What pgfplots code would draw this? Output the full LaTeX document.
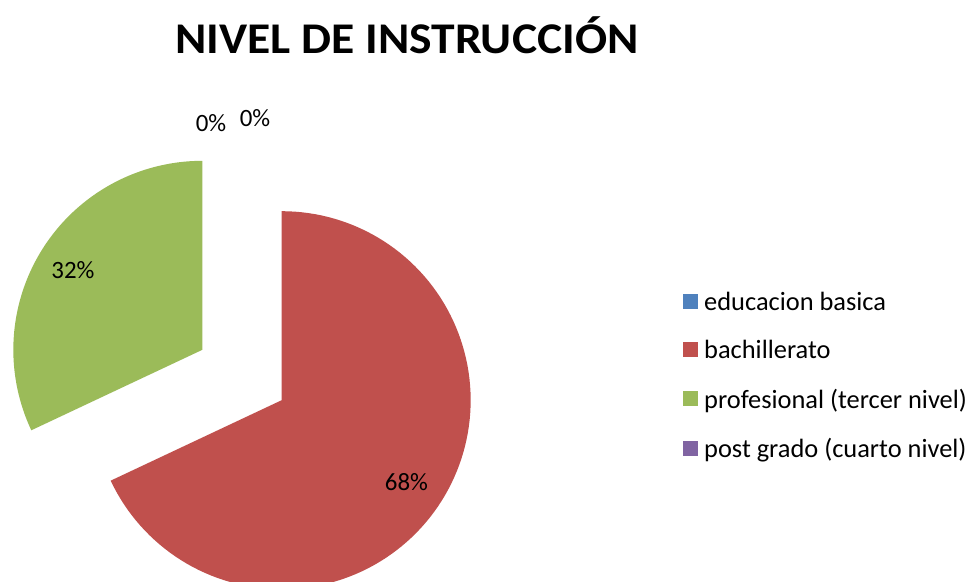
\documentclass[border=0pt]{standalone}
\usepackage{pgfplots}
\pgfplotsset{compat=1.18}
\usepackage{fontspec}
\setmainfont{Carlito}
\definecolor{cblue}{HTML}{4F81BD}
\definecolor{cred}{HTML}{C0504D}
\definecolor{cgreen}{HTML}{9BBB59}
\definecolor{cpurple}{HTML}{8064A2}
% pie geometry (pixels of the reference): centre, radius, explosion
\def\pcx{242}\def\pcy{375}\def\pr{189}\def\pex{47}
% \slice{colour}{cumulative % before}{value %}
\newcommand{\slice}[3]{%
  \pgfmathsetmacro\aS{90-3.6*#2}%
  \pgfmathsetmacro\aE{90-3.6*(#2+#3)}%
  \pgfmathsetmacro\aM{(\aS+\aE)/2}%
  \pgfmathsetmacro\scx{\pcx+\pex*cos(\aM)}%
  \pgfmathsetmacro\scy{\pcy-\pex*sin(\aM)}%
  \ifdim #3pt=0pt
    \addplot[draw=none, fill=#1] coordinates {(\scx,\scy)};
  \else
  \addplot[draw=none, fill=#1, samples at={-1,0,1,...,120,121}, variable=\t]
    ({\scx+((\t<0 || \t>120) ? 0 : \pr)*cos(\aS+(\aE-\aS)*\t/120)},
     {\scy-((\t<0 || \t>120) ? 0 : \pr)*sin(\aS+(\aE-\aS)*\t/120)});
  \fi
}
\begin{document}
\begin{tikzpicture}
\begin{axis}[
  name=pie,
  scale only axis, width=973bp, height=582bp,
  xmin=0, xmax=973, ymin=0, ymax=582, y dir=reverse,
  hide axis, clip=true,
  legend cell align=left,
  legend style={at={(axis cs:683,290)}, anchor=north west, draw=none, fill=none,
    inner sep=0pt, font=\fontsize{26.5}{30}\selectfont, row sep=24.5bp,
    /tikz/every even column/.append style={column sep=0pt}},
  legend image code/.code={\fill[#1] (0bp,-7bp) rectangle (15bp,8bp);\path (19bp,0bp);},
]
% data: educacion basica 0, bachillerato 68, profesional 32, post grado 0
\slice{cblue}{0}{0}
\addlegendentry{educacion basica}
\slice{cred}{0}{68}
\addlegendentry{bachillerato}
\slice{cgreen}{68}{32}
\addlegendentry{profesional (tercer nivel)}
\slice{cpurple}{100}{0}
\addlegendentry{post grado (cuarto nivel)}
\node[anchor=base, xscale=1.085, font=\fontsize{44}{50}\selectfont\bfseries] at (axis cs:407,54) {NIVEL DE INSTRUCCIÓN};
\node[anchor=base, font=\fontsize{25}{30}\selectfont] at (axis cs:211,131) {0\%};
\node[anchor=base, font=\fontsize{25}{30}\selectfont] at (axis cs:255,126) {0\%};
\node[anchor=base, font=\fontsize{25}{30}\selectfont] at (axis cs:73,278) {32\%};
\node[anchor=base, font=\fontsize{25}{30}\selectfont] at (axis cs:406.5,490) {68\%};
\end{axis}
\pgfresetboundingbox
\path[use as bounding box] (pie.south west) rectangle (pie.north east);
\end{tikzpicture}
\end{document}
